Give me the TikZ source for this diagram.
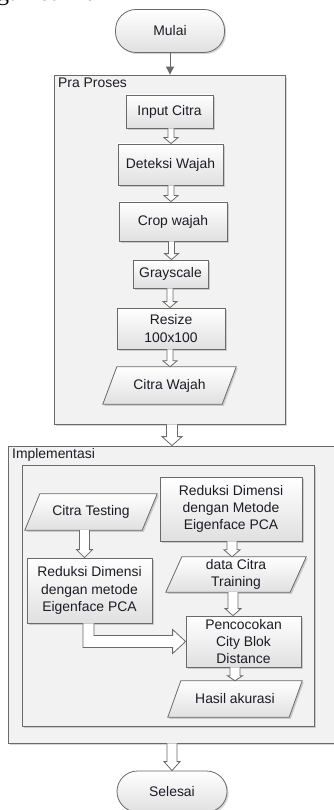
\documentclass[tikz,border=0pt]{standalone}
\usepackage{fontspec}
\setmainfont{Liberation Sans}
\newfontfamily\bodyserif{Liberation Serif}
\usetikzlibrary{shapes.geometric,shadows,arrows.meta,calc}
\definecolor{edge}{HTML}{6A6A6A}
\definecolor{panelfill}{HTML}{F2F2F2}
\definecolor{boxshade}{HTML}{E0E0E0}
\definecolor{ink}{HTML}{1C1C24}
\pgfdeclarelayer{panels}
\pgfdeclarelayer{bodies}
\pgfsetlayers{panels,bodies,main}
\tikzset{
  txt/.style={font=\fontsize{13.9}{17.3}\selectfont, text=ink, align=center, inner sep=0pt},
  boxshadow/.style={drop shadow={shadow xshift=1.6pt, shadow yshift=-1.6pt, fill=black, opacity=0.16}},
  proc/.style={txt, rectangle, draw=edge, line width=0.8pt, top color=white, bottom color=boxshade, boxshadow},
  term/.style={proc, rounded corners=20.5pt},
  iobody/.style={draw=edge, line width=0.8pt, top color=white, bottom color=boxshade, boxshadow},
  panel/.style={rectangle, draw=edge, line width=0.8pt, fill=panelfill, boxshadow, inner sep=0pt},
  caption/.style={font=\fontsize{13.9}{17.3}\selectfont, text=ink, inner sep=0pt, anchor=base west},
  flow/.style={draw=edge, fill=white, line width=0.8pt, line join=miter},
  link/.style={draw=edge, line width=0.9pt, -{Triangle[width=8pt,length=8pt]}},
}
% parallelogram body around a text node: name, half slant
\newcommand\iobox[2]{%
  \begin{pgfonlayer}{bodies}
    \path[iobody] ($(#1.north west)+(#2,0)$) -- ($(#1.north east)+(#2,0)$)
      -- ($(#1.south east)-(#2,0)$) -- ($(#1.south west)-(#2,0)$) -- cycle;
  \end{pgfonlayer}}
% hollow block arrow, downwards: from, to, x, shaft half width, head half width, head length
\newcommand\vflow[6]{%
  \draw[flow] let \p1=(#1.south), \p2=(#2.north) in
    (#3pt-#4pt,\y1) -- (#3pt-#4pt,\y2+#6pt) -- (#3pt-#5pt,\y2+#6pt) -- (#3pt,\y2)
    -- (#3pt+#5pt,\y2+#6pt) -- (#3pt+#4pt,\y2+#6pt) -- (#3pt+#4pt,\y1);}
\begin{document}
\begin{tikzpicture}[x=1pt,y=-1pt]
\useasboundingbox (0,0) rectangle (333,810);

% running text of the page above the figure
\node[font=\bodyserif\fontsize{24}{28}\selectfont, text=black, inner sep=0pt, anchor=base west] (pagetext) at (-3,1) {gambar 1.};

% start
\node[term, minimum width=109, minimum height=43] (mulai) at (170,31) {Mulai};

% pre-processing panel
\begin{pgfonlayer}{panels}
  \node[panel, minimum width=231, minimum height=349] (pra) at (169.5,249.5) {};
  \node[panel, minimum width=328, minimum height=297] (impl) at (172,594.5) {};
  \node[panel, minimum width=292, minimum height=261] (inner) at (168,595.5) {};
\end{pgfonlayer}
\node[caption] (pralabel) at (58,87.5) {Pra Proses};
\node[caption] (impllabel) at (12,458) {Implementasi};

\node[proc, minimum width=87, minimum height=33] (input) at (169.5,111.5) {Input Citra};
\node[proc, minimum width=105, minimum height=41] (deteksi) at (170.5,164.5) {Deteksi Wajah};
\node[proc, minimum width=108, minimum height=39] (crop) at (173,221.5) {Crop wajah};
\node[proc, minimum width=75, minimum height=28] (gray) at (170.5,274) {Grayscale};
\node[proc, minimum width=108, minimum height=41] (resize) at (171,328.5) {Resize\\100x100};
\node[txt, minimum width=119, minimum height=37] (wajah) at (169.5,385.5) {Citra Wajah};
\iobox{wajah}{7}

% implementation
\node[txt, minimum width=117, minimum height=36] (testing) at (91,512) {Citra Testing};
\iobox{testing}{7.5}
\node[proc, minimum width=142, minimum height=64] (redr) at (231,509) {Reduksi Dimensi\\dengan Metode\\Eigenface PCA};
\node[proc, minimum width=125, minimum height=65] (redl) at (89.5,590.5) {Reduksi Dimensi\\dengan metode\\Eigenface PCA};
\node[txt, minimum width=124, minimum height=35] (training) at (236,574.5) {data Citra\\Training};
\iobox{training}{8}
\node[proc, minimum width=115, minimum height=51] (match) at (243.5,641.5) {Pencocokan\\City Blok\\Distance};
\node[txt, minimum width=121, minimum height=36] (hasil) at (235,699) {Hasil akurasi};
\iobox{hasil}{6.5}

% end
\node[term, minimum width=110, minimum height=41] (selesai) at (172,791.5) {Selesai};

% connectors
\draw[link] (mulai.south) -- (mulai.south |- pra.north);
\vflow{input}{deteksi}{171}{3}{7}{6}
\vflow{deteksi}{crop}{171}{3}{7}{6}
\vflow{crop}{gray}{171.5}{3}{7}{6}
\vflow{gray}{resize}{170}{3}{7}{6}
\vflow{resize}{wajah}{170}{3}{7}{6}
\vflow{pra}{impl}{172}{5.5}{10}{9}
\vflow{testing}{redl}{84.5}{5}{8}{8}
\vflow{redr}{training}{232}{5}{8}{7}
\vflow{training}{match}{233}{5}{8}{7}
\vflow{match}{hasil}{235}{5}{7.5}{5}
\vflow{impl}{selesai}{172}{5}{8}{9}
\draw[flow] let \p1=(redl.south), \p2=(match.west) in
  (\x1-6.5pt,\y1) -- (\x1-6.5pt,\y2-6pt) -- (\x2-13pt,\y2-6pt) -- (\x2-13pt,\y2-12pt)
  -- (\x2,\y2) -- (\x2-13pt,\y2+12pt) -- (\x2-13pt,\y2+6pt) -- (\x1+4.5pt,\y2+6pt) -- (\x1+4.5pt,\y1);
\end{tikzpicture}
\end{document}
